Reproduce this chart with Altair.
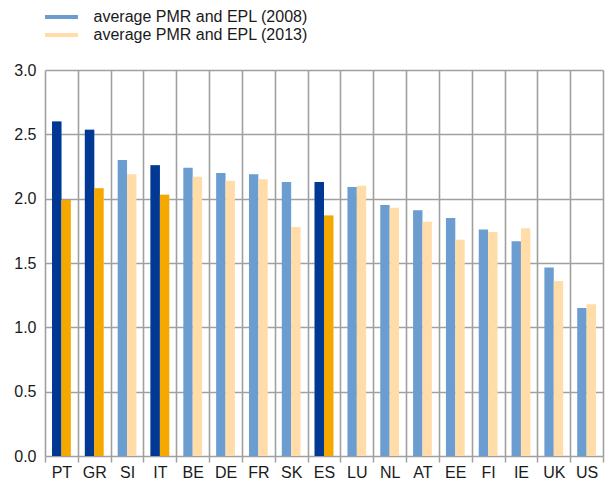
import altair as alt
import pandas as pd

countries = ["PT", "GR", "SI", "IT", "BE", "DE", "FR", "SK", "ES", "LU", "NL", "AT", "EE", "FI", "IE", "UK", "US"]
v2008 = [2.60, 2.535, 2.30, 2.26, 2.24, 2.20, 2.19, 2.13, 2.13, 2.09, 1.95, 1.91, 1.85, 1.76, 1.67, 1.465, 1.15]
v2013 = [1.99, 2.08, 2.19, 2.03, 2.17, 2.14, 2.15, 1.78, 1.87, 2.10, 1.93, 1.82, 1.68, 1.74, 1.77, 1.36, 1.18]
highlight = ["PT", "GR", "IT", "ES"]
series = ["average PMR and EPL (2008)", "average PMR and EPL (2013)"]
light_colors = ["#6b9dd0", "#ffdca8"]
dark_colors = ["#003893", "#f5a800"]

rows = []
for c, a, b in zip(countries, v2008, v2013):
    for s, v, dc in zip(series, [a, b], dark_colors):
        rows.append({"country": c, "series": s, "value": v,
                     "hl": c in highlight, "dark": dc})
df = pd.DataFrame(rows)

FONT = "Liberation Sans"
GRID = "#a0a0a0"

x = alt.X("country:N", sort=countries, title=None,
          scale=alt.Scale(paddingInner=0, paddingOuter=0),
          axis=alt.Axis(tickBand="extent", labelAngle=0, labelFontSize=16,
                        labelColor="#1a1a1a", labelFont=FONT, labelPadding=2,
                        domain=False, ticks=True, tickSize=6, tickColor=GRID,
                        tickWidth=1.5, grid=True, gridColor=GRID, gridWidth=1.6))
xo = alt.XOffset("series:N", sort=series,
                 scale=alt.Scale(paddingInner=0, paddingOuter=0.75))
y = alt.Y("value:Q", title=None,
          scale=alt.Scale(domain=[0, 3], nice=False),
          axis=alt.Axis(values=[0, 0.5, 1, 1.5, 2, 2.5, 3], format=".1f",
                        labelFontSize=16, labelColor="#1a1a1a", labelFont=FONT,
                        labelPadding=9, domain=False, ticks=False, grid=True,
                        gridColor=GRID, gridWidth=1.6))

base = alt.Chart(df).mark_bar().encode(
    x=x, xOffset=xo, y=y,
    color=alt.Color("series:N", sort=series,
                    scale=alt.Scale(domain=series, range=light_colors),
                    legend=alt.Legend(title=None, orient="none", legendX=8.5, legendY=-61,
                                      direction="vertical",
                                      symbolType="M-2.06,-0.25H2.06V0.25H-2.06Z",
                                      symbolSize=256, symbolStrokeWidth=0,
                                      labelFontSize=16, labelFont=FONT, labelLimit=400,
                                      labelColor="#1a1a1a", labelOffset=24,
                                      rowPadding=2, padding=0)),
)

hl = alt.Chart(df).transform_filter(alt.datum.hl == True).mark_bar().encode(
    x=x, xOffset=xo, y=y,
    color=alt.Color("dark:N", scale=None, legend=None),
)

chart = alt.layer(base, hl).properties(
    width=597, height=472,
    autosize=alt.AutoSizeParams(type="fit", contains="padding"),
    padding={"left": 5, "top": 54, "right": 1, "bottom": 0},
).configure_view(stroke=None).configure_axis(gridOpacity=1)

chart.save("out.html", embed_options={"renderer": "svg", "actions": False})
